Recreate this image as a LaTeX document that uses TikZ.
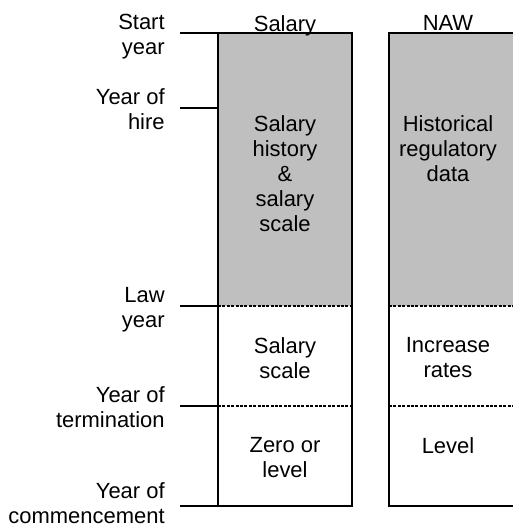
\documentclass[tikz,border=0pt]{standalone}
\usepackage{fontspec}
\setmainfont{Liberation Sans}
\begin{document}
\begin{tikzpicture}[
    x=0.02cm, y=-0.02cm,
    font=\fontsize{12.5pt}{14.2pt}\selectfont,
    shade/.style={fill=black!25},
    frame/.style={line width=1.1pt},
    split/.style={line width=0.7pt, dash pattern=on 1.7pt off 0.8pt},
    caption/.style={anchor=north east, align=right, inner sep=0pt},
    heading/.style={anchor=north, inner sep=0pt},
    cell/.style={anchor=north, align=center, inner sep=0pt}
  ]
  % 1 unit = 1 px of a 513 x 527 sheet, y runs downwards.
  \useasboundingbox (0,0) rectangle (513,527);
  \clip (0,0) rectangle (513,527);

  % --- shaded history part of both columns ---
  \fill[shade] (218,33) rectangle (352,306);
  \fill[shade] (389,33) rectangle (540,306);

  % --- dashed splits inside the columns ---
  \foreach \sy in {306, 406}{
    \draw[split] (218,\sy) -- (352,\sy);
    \draw[split] (389,\sy) -- (540,\sy);
  }

  % --- column outlines ---
  \draw[frame] (218,33) rectangle (352,506);
  \draw[frame] (389,33) rectangle (540,506);

  % --- time axis: ticks and their captions (caption top sits \dy above) ---
  \foreach \ty/\dy/\txt [count=\i] in {33/19/{Start\\year}, 108/20/{Year of\\hire},
      306/19/{Law\\year}, 406/20/{Year of\\termination},
      506/24/{Year of\\commencement}}{
    \draw[frame] (180,\ty) -- (218,\ty);
    \node[caption] (tick\i) at (165,\ty-\dy) {\txt};
  }

  % --- column headings ---
  \node[heading] (colsalary) at (285,15) {Salary};
  \node[heading] (colnaw)    at (448,15) {NAW};

  % --- Salary column ---
  \node[cell] (salhist)  at (285,115) {Salary\\history\\\&\\salary\\scale};
  \node[cell] (salscale) at (285,337) {Salary\\scale};
  \node[cell] (salafter) at (285,437) {Zero or\\level};

  % --- NAW column ---
  \node[cell] (nawhist)  at (448,115) {Historical\\regulatory\\data};
  \node[cell] (nawrates) at (448,337) {Increase\\rates};
  \node[cell] (nawafter) at (448,437) {Level};
\end{tikzpicture}
\end{document}
